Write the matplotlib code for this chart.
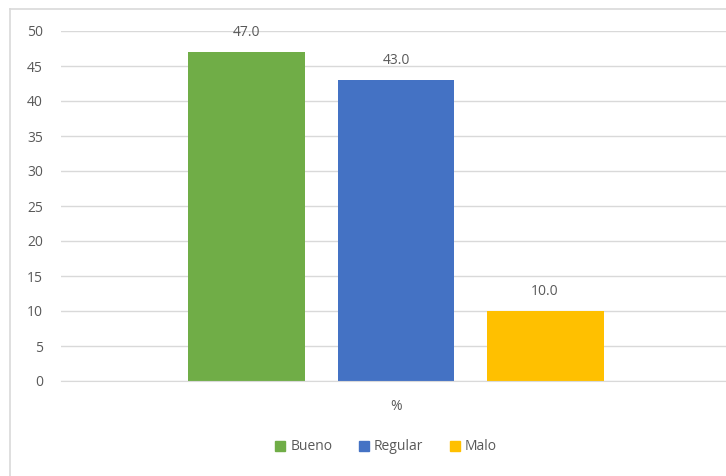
import numpy as np
import matplotlib
matplotlib.use('Agg')
import matplotlib.pyplot as plt
from matplotlib.patches import Rectangle
from matplotlib.lines import Line2D

plt.rcParams['font.family'] = ['Open Sans', 'DejaVu Sans']

categorias = ['Bueno', 'Regular', 'Malo']
valores = [47.0, 43.0, 10.0]
colores = ['#70AD47', '#4472C4', '#FFC000']
eje_x = ['%']
yticks = [0, 5, 10, 15, 20, 25, 30, 35, 40, 45, 50]

gris = '#595959'
linea = '#D9D9D9'

fig = plt.figure(figsize=(7.26, 4.76), dpi=100)
ax = fig.add_axes([61/726, 1-381/476, 670/726, 350/476])

# marco del grafico (recortado a la derecha y abajo)
fig.add_artist(Line2D([10/726, 10/726], [0, 1-9/476], color=linea, lw=1.2, transform=fig.transFigure))
fig.add_artist(Line2D([10/726, 1], [1-9/476, 1-9/476], color=linea, lw=1.2, transform=fig.transFigure))

pos = np.arange(len(categorias)) - 1
ancho = 0.785
barras = ax.bar(pos, valores, width=ancho, color=colores, zorder=3, label=categorias)
for p, v in zip(pos, valores):
    ax.annotate('%.1f' % v, (p, v), xytext=(0, 8.5), textcoords='offset points',
                ha='center', va='bottom', fontsize=10, color=gris)

ax.set_ylim(0, 50)
ax.set_xlim(-2.248, 2.248)
ax.set_yticks(yticks)
ax.set_xticks([0])
ax.set_xticklabels(eje_x)
ax.tick_params(axis='both', length=0, labelsize=10, labelcolor=gris)
ax.tick_params(axis='y', pad=13)
ax.tick_params(axis='x', pad=13)
ax.grid(axis='y', color=linea, lw=1, zorder=0)
for s in ['top', 'right', 'left']:
    ax.spines[s].set_visible(False)
ax.spines['bottom'].set_color(linea)
ax.spines['bottom'].set_zorder(4)

handles = [Rectangle((0, 0), 1, 1, color=c) for c in colores]
leg = fig.legend(handles, categorias, loc='center', bbox_to_anchor=(386/726, 1-447/476),
                 ncol=3, frameon=False, fontsize=10, handlelength=0.75, handleheight=0.75,
                 handletextpad=0.35, columnspacing=1.9)
for t in leg.get_texts():
    t.set_color(gris)

fig.savefig('out.png', dpi=100)
